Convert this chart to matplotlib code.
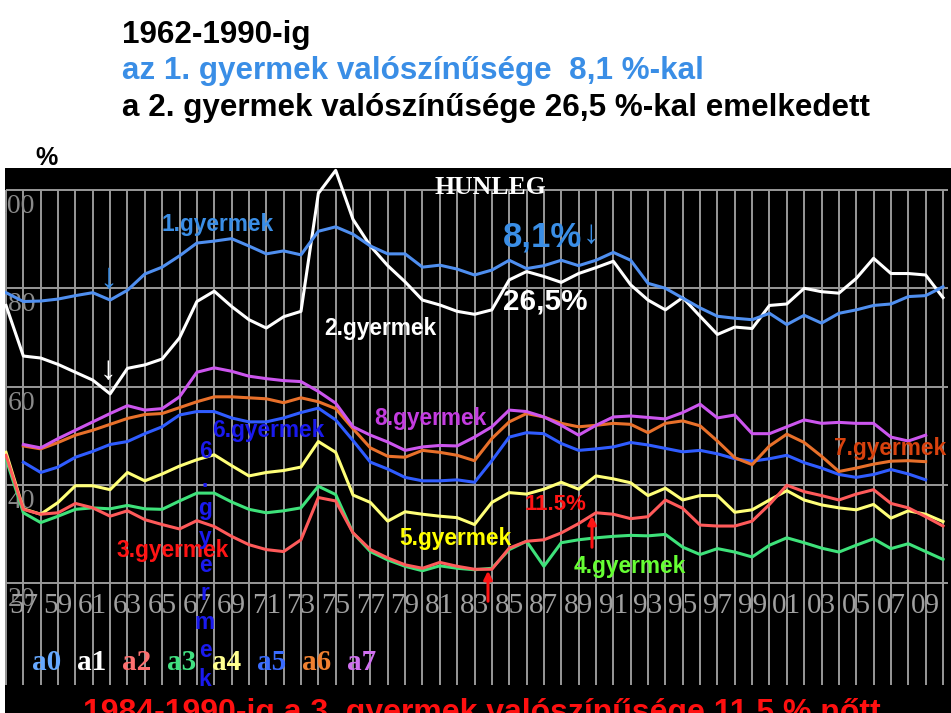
import numpy as np
import matplotlib
matplotlib.use("Agg")
import matplotlib.pyplot as plt

# --- data (percent) ---
years = np.arange(1956, 2011)
years_short = np.arange(1957, 2010)

a0 = [79.1, 77.3, 77.4, 77.8, 78.5, 79.1, 77.6, 79.6, 82.9, 84.3,
      86.6, 89.2, 89.6, 90.1, 88.6, 87.0, 87.6, 86.8, 91.6, 92.5,
      91.0, 88.6, 87.0, 87.0, 84.3, 84.7, 83.9, 82.7, 83.7, 85.7,
      84.0, 84.6, 85.7, 84.6, 85.7, 87.3, 85.7, 81.0, 80.0, 78.0,
      76.0, 74.3, 73.9, 73.6, 74.9, 72.6, 74.5, 72.9, 74.9, 75.6,
      76.5, 76.8, 78.3, 78.5, 80.3]
a1 = [76.5, 66.2, 65.8, 64.5, 62.9, 61.3, 58.5, 63.7, 64.4, 65.6,
      69.9, 77.3, 79.4, 76.3, 73.6, 71.9, 74.2, 75.3, 99.3, 104.0,
      94.0, 88.6, 84.6, 81.3, 77.6, 76.6, 75.3, 74.7, 75.6, 81.7,
      83.4, 82.4, 81.2, 83.0, 84.2, 85.5, 80.7, 77.6, 75.6, 78.1,
      74.3, 70.6, 72.1, 71.8, 76.5, 76.8, 80.0, 79.3, 79.0, 82.0,
      86.1, 83.0, 83.0, 82.7, 78.1]
a2 = [46.0, 35.0, 34.0, 34.3, 36.2, 35.3, 33.6, 34.7, 32.9, 31.9,
      31.0, 32.7, 31.5, 29.5, 27.8, 26.8, 26.4, 28.8, 37.4, 36.7,
      30.2, 26.8, 25.1, 23.7, 23.0, 24.2, 23.4, 22.8, 22.8, 27.1,
      28.5, 28.8, 30.2, 32.1, 34.3, 34.0, 33.1, 33.5, 36.9, 35.2,
      31.8, 31.6, 31.6, 32.6, 36.0, 39.9, 38.6, 37.8, 36.9, 38.1,
      39.0, 36.2, 35.3, 33.5, 31.6]
a3 = [45.3, 34.3, 32.3, 33.6, 35.0, 35.3, 35.1, 35.8, 35.1, 35.0,
      36.7, 38.3, 38.3, 36.5, 35.0, 34.3, 34.7, 35.3, 39.7, 38.0,
      30.2, 26.4, 24.7, 23.4, 22.5, 23.5, 23.0, 22.7, 23.0, 26.8,
      28.5, 23.4, 28.2, 28.8, 29.2, 29.5, 29.7, 29.6, 29.9, 27.3,
      25.8, 27.0, 26.3, 25.3, 27.7, 29.2, 28.2, 27.1, 26.3, 27.7,
      29.0, 27.0, 28.0, 26.4, 24.8]
a4 = [46.6, 35.1, 34.0, 36.4, 39.8, 39.8, 39.0, 42.5, 40.8, 42.2,
      43.8, 45.1, 46.1, 43.9, 41.8, 42.5, 42.9, 43.6, 48.8, 46.6,
      37.9, 36.4, 32.6, 34.5, 34.0, 33.6, 33.3, 31.9, 36.4, 38.4,
      38.1, 39.1, 40.5, 39.1, 41.8, 41.2, 40.4, 37.8, 39.3, 36.9,
      37.8, 37.8, 34.4, 34.9, 36.9, 38.8, 36.9, 35.9, 35.3, 34.9,
      36.0, 33.2, 34.7, 34.0, 32.5]
a5 = [44.6, 42.5, 43.6, 45.6, 46.8, 48.2, 48.8, 50.4, 51.8, 54.2,
      54.9, 54.9, 53.6, 52.8, 52.8, 53.6, 54.7, 55.6, 53.2, 49.0,
      44.6, 43.2, 41.5, 40.8, 40.8, 41.0, 40.5, 44.9, 49.7, 50.6,
      50.4, 48.4, 47.0, 47.3, 47.7, 48.6, 48.1, 47.4, 46.7, 47.0,
      46.3, 45.3, 44.8, 45.3, 46.0, 44.5, 43.4, 42.1, 41.5, 42.1,
      43.1, 42.2, 41.0]
a6 = [47.9, 47.3, 48.6, 50.1, 51.1, 52.3, 53.5, 54.3, 54.5, 55.7,
      56.9, 57.9, 57.9, 57.7, 57.5, 56.7, 57.7, 56.9, 55.5, 51.4,
      47.5, 45.8, 45.6, 47.0, 46.6, 46.0, 44.9, 49.4, 52.8, 54.5,
      53.8, 52.5, 51.8, 52.1, 52.5, 52.3, 50.6, 52.5, 53.0, 52.0,
      48.9, 45.5, 44.1, 47.9, 50.3, 48.6, 45.8, 42.7, 43.4, 44.2,
      44.8, 44.9, 44.7]
a7 = [48.2, 47.5, 49.4, 51.1, 52.8, 54.5, 56.1, 55.2, 55.5, 57.9,
      62.9, 63.8, 63.1, 62.1, 61.6, 61.2, 61.0, 59.0, 56.6, 51.8,
      50.1, 48.7, 47.0, 47.7, 48.0, 47.9, 49.7, 51.8, 55.2, 54.9,
      53.8, 52.1, 50.1, 52.1, 53.8, 54.0, 53.7, 53.4, 54.7, 56.4,
      53.6, 54.2, 50.4, 50.4, 51.8, 53.2, 52.5, 52.7, 52.5, 52.5,
      49.7, 48.9, 50.1]

series_names = ["a0", "a1", "a2", "a3", "a4", "a5", "a6", "a7"]
series_colors = ["#4f8ff0", "#ffffff", "#ff5a5a", "#3ee27a",
                 "#ffff78", "#2f5cff", "#e8702a", "#cc55ee"]
legend_colors = ["#66a8ff", "#ffffff", "#ff7070", "#40e080",
                 "#ffff90", "#3a6cff", "#f08030", "#d070f0"]
ytick_vals = [100, 80, 60, 40, 20]
xtick_years = np.arange(1957, 2010, 2)

W, H = 951, 713
TOP = 168  # pixel row where the black screen starts


def fp(x, y):
    # pixel position (from top-left) -> figure fraction
    return x / W, 1 - y / H


fig = plt.figure(figsize=(W / 100, H / 100), dpi=100)
fig.patch.set_facecolor("white")

ax = fig.add_axes([5 / W, 0, 946 / W, (H - TOP) / H])
ax.set_facecolor("black")
ax.set_xlim(1955.942, 2010.461)
ax.set_ylim(-6.46, 100 + (190 - TOP) * 80 / 393)
ax.axis("off")
ax.add_patch(plt.Rectangle((0, 0), 1, 1, transform=ax.transAxes,
                           color="black", zorder=0))

# grid of the old screen
ax.vlines(years, -0.8, 100, color="#999999", lw=1.4, zorder=1)
ax.hlines(ytick_vals, 1956, 2010.3, color="#999999", lw=1.4, zorder=1)

sans = ["Liberation Sans", "DejaVu Sans"]
serif = ["Liberation Serif", "DejaVu Serif"]

for v in ytick_vals:
    ax.text(1956 + 29 / 17.35, v - 3.4, str(v), ha="right", va="center",
            color="#8a8a8a", fontsize=20, family=serif, clip_on=True, zorder=2)
for yr in xtick_years:
    ax.text(yr, 15.3, "%02d" % (yr % 100), ha="center", va="center",
            color="#a0a0a0", fontsize=21, family=serif, zorder=2)

full = [a0, a1, a2, a3, a4]
short = [a5, a6, a7]
for i, s in enumerate(short):
    ax.plot(years_short, s, color=series_colors[5 + i], lw=2.2, zorder=3)
for i in [4, 3, 2, 1, 0]:
    ax.plot(years, full[i], color=series_colors[i], lw=2.2, zorder=3)

# legend row a0 .. a7
for i, name in enumerate(series_names):
    fig.text(*fp(47 + 45 * i, 663), name, ha="center", va="center",
             color=legend_colors[i], fontsize=21, family=serif,
             fontweight="bold")

fig.text(*fp(490, 188), "HUNLEG", ha="center", va="center", color="white",
         fontsize=18.5, family=serif, fontweight="bold")

# title lines above the screen
fig.text(*fp(122, 43), "1962-1990-ig", ha="left", va="baseline",
         color="black", fontsize=22.6, family=sans, fontweight="bold")
fig.text(*fp(122, 79), "az 1. gyermek valószínűsége  8,1 %-kal", ha="left",
         va="baseline", color="#3a8ee6", fontsize=22.6, family=sans,
         fontweight="bold")
fig.text(*fp(122, 116), "a 2. gyermek valószínűsége 26,5 %-kal emelkedett",
         ha="left", va="baseline", color="black", fontsize=22.6, family=sans,
         fontweight="bold")
fig.text(*fp(35, 165), "%", ha="left", va="baseline", color="black",
         fontsize=18, family=sans, fontweight="bold")

# labels written on the chart
labels = [
    ("1.gyermek", 218, 224, "#3a8ee6"),
    ("2.gyermek", 380, 328, "white"),
    ("8.gyermek", 430, 419, "#c43ce0"),
    ("6.gyermek", 268, 431, "#1a1aee"),
    ("7.gyermek", 890, 449, "#d8420e"),
    ("5.gyermek", 455, 538, "#ffff00"),
    ("3.gyermek", 173, 550, "#ff1414"),
    ("4.gyermek", 630, 567, "#66ff33"),
]
for txt, x, y, c in labels:
    fig.text(*fp(x, y), txt, ha="center", va="center", color=c,
             fontsize=16.4, family=sans, fontweight="bold")

fig.text(*fp(503, 237), "8,1%", ha="left", va="center", color="#3a8ee6",
         fontsize=25, family=sans, fontweight="bold")
fig.text(*fp(591, 234), "\u2193", ha="center", va="center", color="#3a8ee6",
         fontsize=24, family=sans)
fig.text(*fp(503, 302), "26,5%", ha="left", va="center", color="white",
         fontsize=21.3, family=sans, fontweight="bold")
fig.text(*fp(556, 504), "11.5%", ha="center", va="center", color="#ff1414",
         fontsize=16, family=sans, fontweight="bold")

# vertical "6.gyermek"
for k, ch in enumerate("6.gyermek"):
    fig.text(*fp(205, 452 + 28.4 * k), ch, ha="center", va="center",
             color="#1a1aee", fontsize=16.4, family=sans, fontweight="bold")

# arrows
fig.text(*fp(108, 278), "\u2193", ha="center", va="center", color="#3a8ee6",
         fontsize=26, family=sans)
fig.text(*fp(108, 370), "\u2193", ha="center", va="center", color="white",
         fontsize=24, family=sans)
for x, y0, y1 in [(488, 604, 568), (592, 550, 513)]:
    ax.annotate("", xy=fp(x, y1), xytext=fp(x, y0),
                xycoords="figure fraction", textcoords="figure fraction",
                arrowprops=dict(arrowstyle="-|>", color="#ff1414", lw=2.2,
                                mutation_scale=12), zorder=5)

# caption cut off at the bottom edge
fig.text(*fp(83, 721), "1984-1990-ig a 3. gyermek valószínűsége 11,5 % nőtt",
         ha="left", va="baseline", color="#ff1010", fontsize=23,
         family=sans, fontweight="bold")

fig.savefig("out.png", dpi=100, facecolor=fig.get_facecolor())
